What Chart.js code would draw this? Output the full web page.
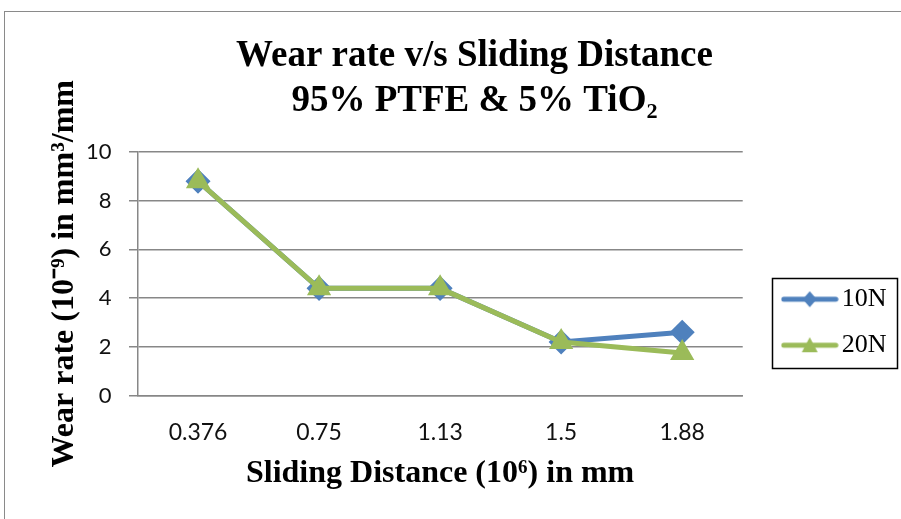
<!DOCTYPE html>
<html><head><meta charset="utf-8">
<script src="https://cdn.jsdelivr.net/npm/chart.js@4"></script>
<style>
html,body{margin:0;padding:0;background:#fff;overflow:hidden;width:901px;height:519px;}
#wrap{position:absolute;left:4px;top:11px;width:940px;height:520px;border:1.5px solid #8a8a8a;box-sizing:border-box;background:#fff;}
canvas{display:block;}
</style></head>
<body>
<div id="wrap"><canvas id="c" width="937" height="517"></canvas></div>
<script>
const categories = ["0.376", "0.75", "1.13", "1.5", "1.88"];
const wear10N = [8.8, 4.4, 4.4, 2.2, 2.6];
const wear20N = [8.8, 4.4, 4.4, 2.2, 1.75];
const seriesNames = ["10N", "20N"];
const yTicks = [0, 2, 4, 6, 8, 10];

const BLUE = "#4F81BD", GREEN = "#9BBB59";
const SERIF = "'Liberation Serif', 'Times New Roman', serif";
const SANS = "Lato, 'Open Sans', sans-serif";

function legendSample(color, shape) {
  const c = document.createElement("canvas");
  c.width = 58; c.height = 20;
  const g = c.getContext("2d");
  g.strokeStyle = color; g.lineWidth = 5; g.lineCap = "round";
  g.beginPath(); g.moveTo(3, 10); g.lineTo(55, 10); g.stroke();
  g.fillStyle = color;
  g.beginPath();
  if (shape === "diamond") {
    g.moveTo(29, 2); g.lineTo(36, 10); g.lineTo(29, 18); g.lineTo(22, 10);
  } else {
    g.moveTo(29, 2); g.lineTo(37, 17); g.lineTo(21, 17);
  }
  g.closePath(); g.fill();
  return c;
}

const legendFrame = {
  id: "legendFrame",
  afterDraw(chart) {
    const boxes = chart.legend && chart.legend.legendHitBoxes;
    if (!boxes || !boxes.length) return;
    let l = Infinity, r = -Infinity, t = Infinity, b = -Infinity;
    boxes.forEach(h => { l = Math.min(l, h.left); r = Math.max(r, h.left + h.width); t = Math.min(t, h.top); b = Math.max(b, h.top + h.height); });
    const ctx = chart.ctx;
    ctx.save();
    ctx.strokeStyle = "#000"; ctx.lineWidth = 1.5;
    ctx.strokeRect(Math.round(l - 19) + 0.5, Math.round(t - 8) + 0.5, Math.round((r - l) + 29), Math.round((b - t) + 18));
    ctx.restore();
  }
};

new Chart(document.getElementById("c"), {
  type: "line",
  data: {
    labels: categories,
    datasets: [
      { label: seriesNames[0], data: wear10N, borderColor: BLUE, backgroundColor: BLUE,
        borderWidth: 5, pointStyle: "rectRot", pointRadius: 9, pointHoverRadius: 9,
        pointBackgroundColor: BLUE, pointBorderColor: BLUE, tension: 0, order: 1 },
      { label: seriesNames[1], data: wear20N, borderColor: GREEN, backgroundColor: GREEN,
        borderWidth: 5, pointStyle: "triangle", pointRadius: 9, pointHoverRadius: 9,
        pointBackgroundColor: GREEN, pointBorderColor: GREEN, tension: 0, order: 0 }
    ]
  },
  options: {
    responsive: false,
    animation: false,
    devicePixelRatio: 1,
    layout: { padding: { left: 47.5, right: 45.5, top: 15, bottom: 36.5 } },
    plugins: {
      title: {
        display: true,
        text: ["Wear rate v/s Sliding Distance", "95% PTFE & 5% TiO\u2082"],
        color: "#000",
        font: { family: SERIF, size: 37, weight: "bold", lineHeight: "45px" },
        padding: { top: 7.3, bottom: 27.7 }
      },
      legend: {
        display: true,
        position: "right",
        align: "center",
        sort: (a, b) => a.datasetIndex - b.datasetIndex,
        title: { display: true, text: " ", font: { size: 10, lineHeight: "12px" }, padding: { top: 0, bottom: 113 } },
        labels: {
          usePointStyle: true,
          pointStyleWidth: 38,
          padding: 20,
          color: "#000",
          font: { family: SERIF, size: 26 },
          generateLabels(chart) {
            return chart.data.datasets.map((ds, i) => ({
              text: ds.label, datasetIndex: i, fontColor: "#000",
              pointStyle: legendSample(ds.borderColor, i === 0 ? "diamond" : "triangle"),
              hidden: false, lineWidth: 0, strokeStyle: ds.borderColor, fillStyle: ds.borderColor
            }));
          }
        }
      },
      tooltip: { enabled: false }
    },
    scales: {
      x: {
        offset: true,
        grid: { display: false, drawTicks: false },
        border: { display: true, color: "#878787", width: 1.5 },
        ticks: { color: "#111", padding: 23, font: { family: SANS, size: 23 } },
        title: { display: true, text: "Sliding Distance (10\u2076) in mm", color: "#000", padding: { top: -15, bottom: 0 },
          font: { family: SERIF, size: 32, weight: "bold" } }
      },
      y: {
        min: 0, max: 10,
        afterBuildTicks(scale) { scale.ticks = yTicks.map(v => ({ value: v })); },
        afterFit(scale) { scale.width = 85; },
        grid: { color: "#878787", lineWidth: 1.5, tickLength: 8.5, drawTicks: true },
        border: { display: true, color: "#878787", width: 1.5 },
        ticks: { color: "#111", padding: 17.5, font: { family: SANS, size: 22 } },
        title: { display: true, text: "Wear rate (10\u207B\u2079) in mm\u00B3/mm", color: "#000", padding: { top: 0, bottom: 0 },
          font: { family: SERIF, size: 32, weight: "bold", lineHeight: 0.75 } }
      },
      gap: {
        type: "linear",
        position: "right",
        display: true,
        afterFit(scale) { scale.width = 28; },
        grid: { display: false, drawTicks: false },
        border: { display: false },
        ticks: { display: false },
        title: { display: false }
      }
    }
  },
  plugins: [legendFrame]
});
</script>
</body></html>
